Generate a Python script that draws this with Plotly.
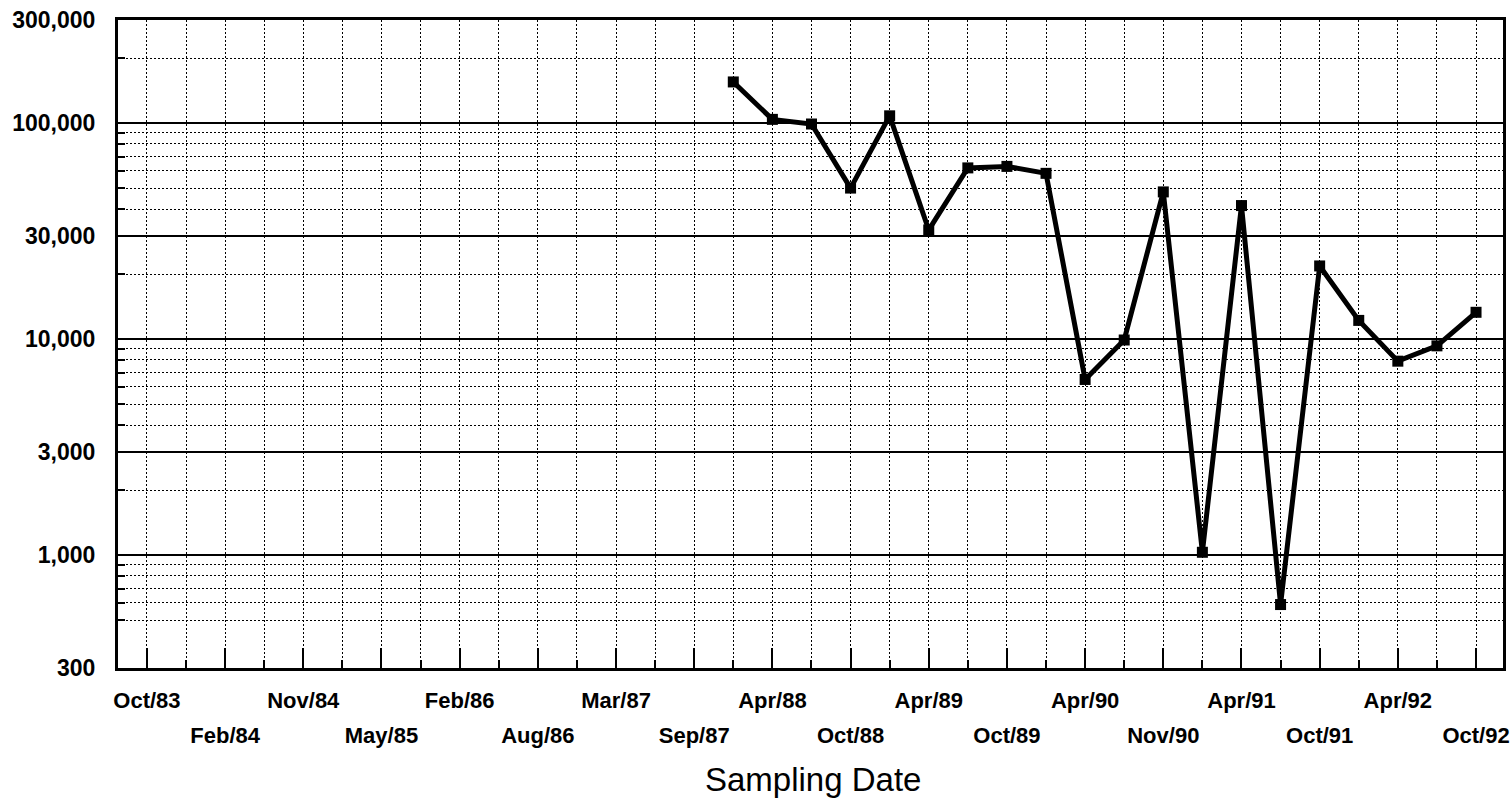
import plotly.graph_objects as go

# Category axis positions (35 sampling slots); every other slot is labelled
tick_labels = ["Oct/83", "Feb/84", "Nov/84", "May/85", "Feb/86", "Aug/86",
               "Mar/87", "Sep/87", "Apr/88", "Oct/88", "Apr/89", "Oct/89",
               "Apr/90", "Nov/90", "Apr/91", "Oct/91", "Apr/92", "Oct/92"]
n_slots = 35

# Sample slot index (0 = Oct/83) and measured values
sample_slot = [15, 16, 17, 18, 19, 20, 21, 22, 23, 24,
               25, 26, 27, 28, 29, 30, 31, 32, 33, 34]
values = [155000, 104000, 99000, 50000, 108000, 32000, 62000, 63000, 58500, 6500,
          9900, 48000, 1030, 41500, 590, 21800, 12200, 7900, 9300, 13300]

y_major = [300, 1000, 3000, 10000, 30000, 100000, 300000]
y_major_text = ["300", "1,000", "3,000", "10,000", "30,000", "100,000", "300,000"]
y_minor = [500, 600, 700, 800, 900, 2000, 4000, 5000, 6000, 7000, 8000, 9000,
           20000, 40000, 50000, 60000, 70000, 80000, 90000, 200000]

major_x = list(range(0, n_slots, 2))
minor_x = list(range(1, n_slots, 2))
upper_text = [t if i % 2 == 0 else "" for i, t in enumerate(tick_labels)]
lower_x = [major_x[i] for i in range(len(tick_labels)) if i % 2 == 1]
lower_text = [t for i, t in enumerate(tick_labels) if i % 2 == 1]

fig = go.Figure()
fig.add_trace(go.Scatter(
    x=sample_slot, y=values, mode="lines+markers",
    line=dict(color="black", width=5),
    marker=dict(symbol="square", size=11, color="black"),
    showlegend=False,
))
# invisible copy so the second (label-only) x axis is rendered
fig.add_trace(go.Scatter(
    x=sample_slot, y=values, xaxis="x2", mode="markers",
    marker=dict(opacity=0), hoverinfo="skip", showlegend=False,
))

font_family = "Arial, Liberation Sans, sans-serif"
dotdash = "2px,2px"
x_range = [-0.74, 34.69]

fig.update_layout(
    width=1512, height=799,
    margin=dict(l=118, r=9, t=20, b=131, autoexpand=False),
    paper_bgcolor="white", plot_bgcolor="white",
    font=dict(family=font_family, color="black"),
    xaxis=dict(
        range=x_range, automargin=False,
        tickmode="array", tickvals=major_x, ticktext=upper_text,
        tickfont=dict(size=22, family=font_family, weight="bold"),
        ticks="inside", ticklen=20, tickwidth=1.5, tickcolor="black",
        ticklabelstandoff=11,
        showgrid=True, gridcolor="black", gridwidth=1.2, griddash=dotdash,
        minor=dict(tickmode="array", tickvals=minor_x, ticks="inside", ticklen=8,
                   tickwidth=1.5, tickcolor="black",
                   showgrid=True, gridcolor="black", gridwidth=1.2, griddash=dotdash),
        showline=True, linecolor="black", linewidth=3, mirror=True,
        zeroline=False,
    ),
    xaxis2=dict(
        range=x_range, overlaying="x", anchor="y", side="bottom", automargin=False,
        tickmode="array", tickvals=lower_x, ticktext=lower_text,
        tickfont=dict(size=22, family=font_family, weight="bold"),
        ticks="", ticklabelstandoff=52,
        showgrid=False, showline=False, zeroline=False,
    ),
    yaxis=dict(
        type="log", automargin=False,
        range=[2.4771, 5.4771],
        tickmode="array", tickvals=y_major, ticktext=y_major_text,
        tickfont=dict(size=23, family=font_family, weight="bold"),
        ticks="inside", ticklen=7, tickwidth=1.5, tickcolor="black",
        ticklabelstandoff=15,
        showgrid=True, gridcolor="black", gridwidth=1.5,
        minor=dict(tickmode="array", tickvals=y_minor, ticks="inside", ticklen=7,
                   tickwidth=1.5, tickcolor="black",
                   showgrid=True, gridcolor="black", gridwidth=1.2, griddash=dotdash),
        showline=True, linecolor="black", linewidth=3, mirror=True,
        zeroline=False,
    ),
    annotations=[dict(
        text="Sampling Date", xref="paper", yref="paper",
        x=0.502, y=-0.172, xanchor="center", yanchor="middle", showarrow=False,
        font=dict(size=33, family=font_family, color="black"),
    )],
)

fig.write_html(
    "out.html",
    config={"displayModeBar": False},
    post_script="document.body.style.margin='0';document.body.style.overflow='hidden';",
)
